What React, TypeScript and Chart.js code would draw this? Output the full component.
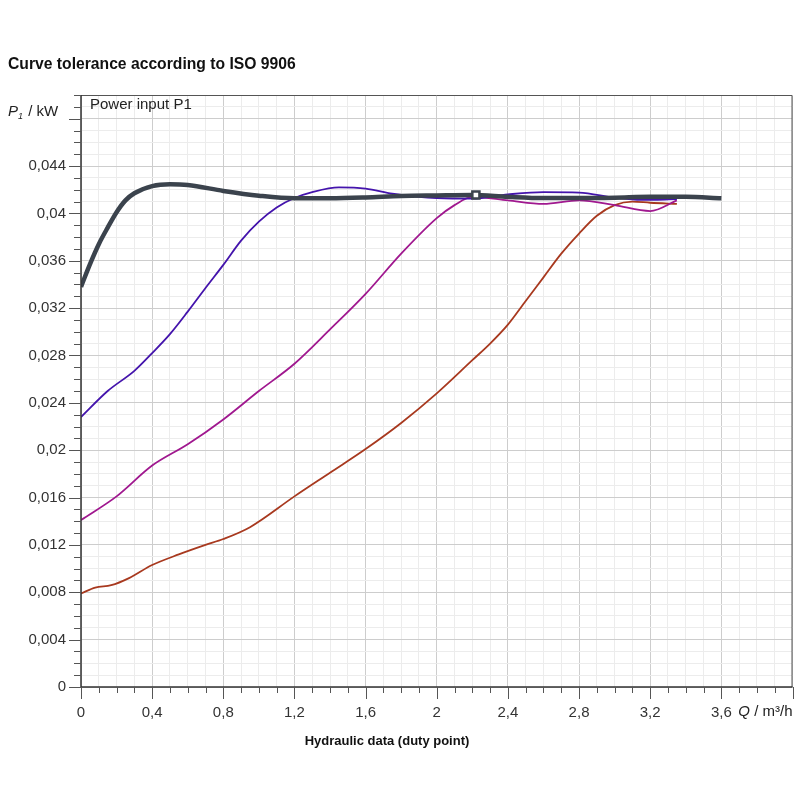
import { useEffect, useRef } from "react";
import { Chart, registerables } from "chart.js";

Chart.register(...registerables);

// Duty point curve (thick dark line)
const dutyFlow = [0, 0.05, 0.1, 0.15, 0.2, 0.25, 0.3, 0.4, 0.5, 0.6, 0.8, 1.0, 1.2, 1.4, 1.6, 1.8, 2.0, 2.2, 2.4, 2.6, 2.8, 3.0, 3.2, 3.4, 3.6];
const dutyPower = [0.0338, 0.0357, 0.0374, 0.0388, 0.0401, 0.0411, 0.0417, 0.0423, 0.04246, 0.0424, 0.0419, 0.0415, 0.04128, 0.04128, 0.04135, 0.04148, 0.04152, 0.04155, 0.0414, 0.0413, 0.0413, 0.04133, 0.0414, 0.0414, 0.04128];

// Upper tolerance curve (indigo)
const blueFlow = [0, 0.15, 0.3, 0.4, 0.5, 0.6, 0.7, 0.8, 0.9, 1.0, 1.1, 1.2, 1.3, 1.45, 1.6, 1.75, 1.9, 2.0, 2.2, 2.4, 2.6, 2.8, 3.0, 3.15, 3.35];
const bluePower = [0.0228, 0.025, 0.0267, 0.0282, 0.0298, 0.0317, 0.0337, 0.03565, 0.0377, 0.0393, 0.0405, 0.0413, 0.0418, 0.0422, 0.0421, 0.04167, 0.0414, 0.0413, 0.04125, 0.0416, 0.0418, 0.04176, 0.04133, 0.04114, 0.0412];

// Middle curve (magenta)
const magentaFlow = [0, 0.2, 0.4, 0.6, 0.8, 1.0, 1.2, 1.4, 1.6, 1.8, 2.0, 2.1, 2.2, 2.4, 2.6, 2.8, 3.0, 3.2, 3.35];
const magentaPower = [0.0141, 0.0161, 0.0187, 0.0205, 0.0226, 0.025, 0.0273, 0.0302, 0.0332, 0.0366, 0.0396, 0.0407, 0.0414, 0.0411, 0.0408, 0.0411, 0.0407, 0.0402, 0.0411];

// Lower curve (brown-red)
const redFlow = [0, 0.08, 0.17, 0.27, 0.4, 0.55, 0.7, 0.8, 0.95, 1.2, 1.4, 1.6, 1.8, 2.0, 2.2, 2.3, 2.4, 2.5, 2.6, 2.7, 2.8, 2.9, 3.0, 3.1, 3.2, 3.35];
const redPower = [0.0079, 0.0084, 0.0086, 0.0092, 0.0103, 0.0112, 0.012, 0.0125, 0.0135, 0.0161, 0.0181, 0.0201, 0.0223, 0.0248, 0.0276, 0.029, 0.0306, 0.0326, 0.0346, 0.0366, 0.0383, 0.0398, 0.0407, 0.041, 0.0409, 0.0408];

// Duty point marker
const markerFlow = [2.22];
const markerPower = [0.04155];

const xTickLabels = ["0", "0,4", "0,8", "1,2", "1,6", "2", "2,4", "2,8", "3,2", "3,6"];
const yTickLabels = ["0", "0,004", "0,008", "0,012", "0,016", "0,02", "0,024", "0,028", "0,032", "0,036", "0,04", "0,044"];

const FONT = "'Liberation Sans', Arial, sans-serif";

const toPoints = (xs: number[], ys: number[]) => xs.map((x, i) => ({ x, y: ys[i] }));
const isMajor = (v: number, step: number) => Math.abs(Math.round(v / step) * step - v) < 1e-9;

const decorPlugin = {
  id: "decor",
  afterDraw(chart: any) {
    const { ctx, chartArea: a, scales } = chart;
    const xs = scales.x;
    const ys = scales.y;
    ctx.save();

    // frame
    ctx.strokeStyle = "#555";
    ctx.lineWidth = 1;
    ctx.beginPath();
    ctx.moveTo(a.left, a.top + 0.5);
    ctx.lineTo(a.right - 0.5, a.top + 0.5);
    ctx.lineTo(a.right - 0.5, a.bottom);
    ctx.stroke();
    ctx.strokeStyle = "#333";
    ctx.lineWidth = 1.5;
    ctx.beginPath();
    ctx.moveTo(a.left, a.top);
    ctx.lineTo(a.left, a.bottom);
    ctx.lineTo(a.right, a.bottom);
    ctx.stroke();

    // tick marks
    ctx.strokeStyle = "#555";
    ctx.lineWidth = 1;
    for (let i = 0; i <= 50; i++) {
      const py = Math.round(ys.getPixelForValue(i * 0.001)) + 0.5;
      const len = i % 4 === 0 ? 12 : 7;
      ctx.beginPath();
      ctx.moveTo(a.left - len, py);
      ctx.lineTo(a.left, py);
      ctx.stroke();
    }
    for (let i = 0; i <= 40; i++) {
      const px = Math.round(xs.getPixelForValue(i * 0.1)) + 0.5;
      const len = i % 4 === 0 ? 12 : 6;
      ctx.beginPath();
      ctx.moveTo(px, a.bottom);
      ctx.lineTo(px, a.bottom + len);
      ctx.stroke();
    }

    // texts
    ctx.fillStyle = "#111";
    ctx.textBaseline = "middle";
    ctx.textAlign = "left";
    ctx.font = `bold 15.7px ${FONT}`;
    ctx.fillText("Curve tolerance according to ISO 9906", 8, 65);

    ctx.fillStyle = "#222";
    ctx.font = `15px ${FONT}`;
    ctx.fillText("Power input P1", a.left + 9, a.top + 10);

    // y axis unit
    ctx.font = `italic 15px ${FONT}`;
    ctx.fillText("P", 8, 112);
    ctx.font = `italic 9px ${FONT}`;
    ctx.fillText("1", 18, 116);
    ctx.font = `15px ${FONT}`;
    ctx.fillText(" / kW", 24, 112);

    // x axis unit
    const qy = a.bottom + 25;
    ctx.font = `15px ${FONT}`;
    const unit = " / m³/h";
    const uw = ctx.measureText(unit).width;
    ctx.textAlign = "right";
    ctx.fillText(unit, a.right, qy);
    ctx.font = `italic 15px ${FONT}`;
    ctx.fillText("Q", a.right - uw, qy);

    ctx.textAlign = "center";
    ctx.fillStyle = "#111";
    ctx.font = `bold 13px ${FONT}`;
    ctx.fillText("Hydraulic data (duty point)", 387, 741);
    ctx.restore();
  },
};

const ToleranceChart = () => {
  const chartRef = useRef<HTMLCanvasElement | null>(null);
  const chartInstance = useRef<Chart | null>(null);

  useEffect(() => {
    document.body.style.margin = "0";
    document.body.style.overflow = "hidden";
    if (chartInstance.current) {
      chartInstance.current.destroy();
    }
    if (!chartRef.current) return;

    chartInstance.current = new Chart(chartRef.current, {
      type: "line",
      data: {
        datasets: [
          {
            label: "Duty point",
            data: toPoints(markerFlow, markerPower),
            showLine: false,
            pointStyle: "rect",
            pointRadius: 5,
            pointBackgroundColor: "#ffffff",
            pointBorderColor: "#3b434d",
            pointBorderWidth: 2.5,
            order: 0,
          },
          {
            label: "Duty curve",
            data: toPoints(dutyFlow, dutyPower),
            borderColor: "#3b434d",
            borderWidth: 4.5,
            pointRadius: 0,
            cubicInterpolationMode: "monotone",
            order: 1,
          },
          {
            label: "Upper",
            data: toPoints(blueFlow, bluePower),
            borderColor: "#4414ac",
            borderWidth: 1.8,
            pointRadius: 0,
            cubicInterpolationMode: "monotone",
            order: 2,
          },
          {
            label: "Middle",
            data: toPoints(magentaFlow, magentaPower),
            borderColor: "#a0188f",
            borderWidth: 1.8,
            pointRadius: 0,
            cubicInterpolationMode: "monotone",
            order: 3,
          },
          {
            label: "Lower",
            data: toPoints(redFlow, redPower),
            borderColor: "#a8391f",
            borderWidth: 1.8,
            pointRadius: 0,
            cubicInterpolationMode: "monotone",
            order: 4,
          },
        ],
      },
      options: {
        animation: false,
        responsive: true,
        maintainAspectRatio: false,
        layout: { padding: { left: 0, right: 7, top: 95, bottom: 73 } },
        plugins: {
          legend: { display: false },
          tooltip: { enabled: false },
        },
        scales: {
          x: {
            type: "linear",
            min: 0,
            max: 4,
            afterFit: (scale: any) => {
              scale.height = 40;
              scale.paddingLeft = 0;
              scale.paddingRight = 0;
            },
            border: { display: false },
            grid: {
              drawTicks: false,
              color: (c: any) => (isMajor(c.tick.value, 0.4) ? "#cdcdcd" : "#ececec"),
            },
            ticks: {
              stepSize: 0.1,
              maxTicksLimit: 100,
              autoSkip: false,
              maxRotation: 0,
              padding: 17,
              color: "#333",
              font: { family: FONT, size: 15 },
              callback: (v: any) => {
                const n = Number(v);
                if (!isMajor(n, 0.4)) return "";
                const idx = Math.round(n / 0.4);
                return idx < xTickLabels.length ? xTickLabels[idx] : "";
              },
            },
          },
          y: {
            type: "linear",
            min: 0,
            max: 0.05,
            afterFit: (scale: any) => {
              scale.width = 81;
              scale.paddingTop = 0;
              scale.paddingBottom = 0;
            },
            border: { display: false },
            grid: {
              drawTicks: false,
              color: (c: any) => (isMajor(c.tick.value, 0.004) ? "#cdcdcd" : "#ececec"),
            },
            ticks: {
              stepSize: 0.001,
              maxTicksLimit: 100,
              autoSkip: false,
              padding: 15,
              color: "#333",
              font: { family: FONT, size: 15 },
              callback: (v: any) => {
                const n = Number(v);
                if (!isMajor(n, 0.004)) return "";
                const idx = Math.round(n / 0.004);
                return idx < yTickLabels.length ? yTickLabels[idx] : "";
              },
            },
          },
        },
      },
      plugins: [decorPlugin],
    } as any);

    return () => {
      if (chartInstance.current) {
        chartInstance.current.destroy();
        chartInstance.current = null;
      }
    };
  }, []);

  return (
    <div style={{ width: "800px", height: "800px", background: "#fff", overflow: "hidden" }}>
      <canvas ref={chartRef} style={{ display: "block" }} />
    </div>
  );
};

export default function App() {
  return <ToleranceChart />;
}
